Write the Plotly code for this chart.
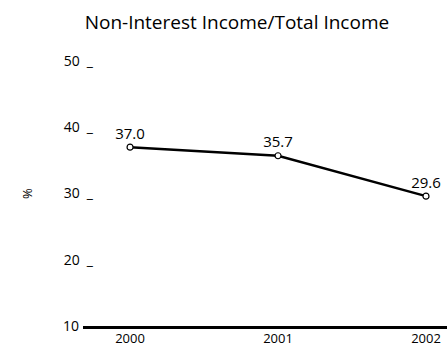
import plotly.graph_objects as go

years = [2000, 2001, 2002]
ratio = [37.0, 35.7, 29.6]
y_ticks = [10, 20, 30, 40, 50]
# the printed chart shows a small baseline dash after each y label
y_ticktext = [f"{v}\u2002\u2002" if v == 10 else f"{v}\u2002_" for v in y_ticks]

FONT = "Open Sans, Noto Sans, sans-serif"

fig = go.Figure()
fig.add_trace(
    go.Scatter(
        x=years,
        y=ratio,
        mode="lines+markers+text",
        line=dict(color="black", width=2.5),
        marker=dict(size=6, color="white", line=dict(color="black", width=1.2)),
        text=[f"{v:.1f}" for v in ratio],
        textposition="top center",
        textfont=dict(family=FONT, size=15, color="black"),
        cliponaxis=False,
        showlegend=False,
    )
)

fig.update_layout(
    width=447,
    height=347,
    margin=dict(l=83, r=0, t=61, b=21),
    paper_bgcolor="white",
    plot_bgcolor="white",
    font=dict(family=FONT, color="black"),
    title=dict(
        text="Non-Interest Income/Total Income",
        x=0.53,
        xanchor="center",
        y=0.937,
        yanchor="middle",
        font=dict(family=FONT, size=19, color="black"),
    ),
    xaxis=dict(
        range=[1999.682, 2002.142],
        tickvals=years,
        ticktext=[str(y) for y in years],
        showgrid=False,
        zeroline=False,
        showline=True,
        linecolor="black",
        linewidth=3,
        ticks="",
        ticklabelstandoff=-2,
        automargin=False,
        tickfont=dict(family=FONT, size=13, color="black"),
    ),
    yaxis=dict(
        range=[10, 50],
        tickvals=y_ticks,
        ticktext=y_ticktext,
        showgrid=False,
        zeroline=False,
        showline=False,
        ticks="",
        ticklabelstandoff=-11,
        automargin=False,
        tickfont=dict(family=FONT, size=14, color="black"),
        title=dict(text="%", standoff=27, font=dict(family=FONT, size=13, color="black")),
    ),
)

# drop the browser's default body margin so the figure sits at the page origin
fig.write_html(
    "out.html",
    config={"displayModeBar": False},
    post_script="document.body.style.margin = '0';",
)
